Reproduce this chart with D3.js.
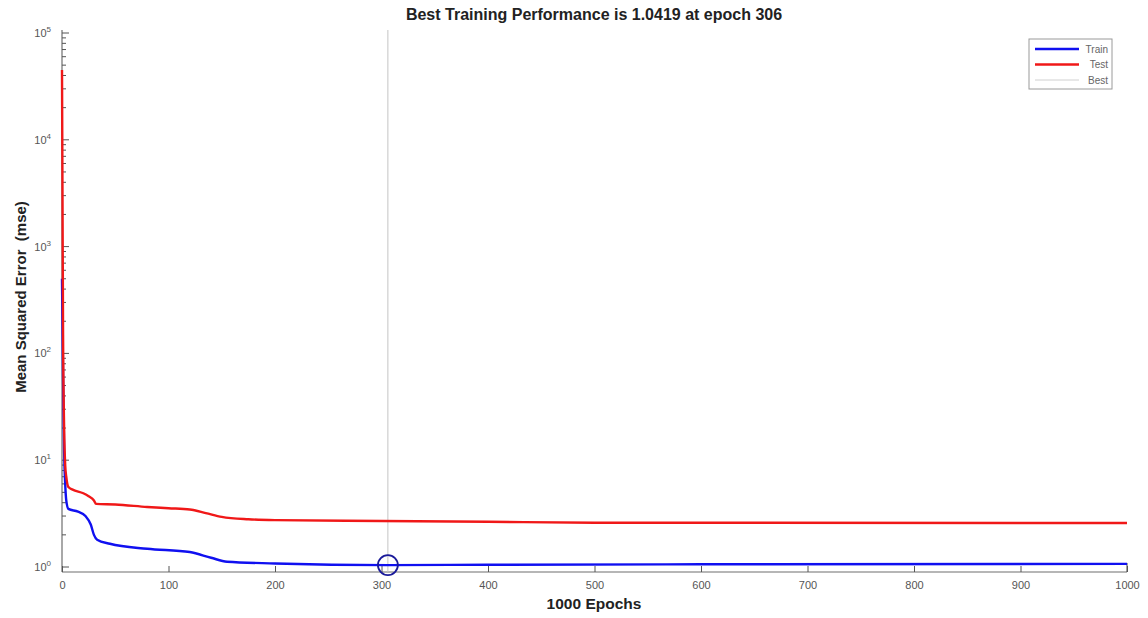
<!DOCTYPE html>
<html>
<head>
<meta charset="utf-8">
<script src="https://cdn.jsdelivr.net/npm/d3@7"></script>
<style>
  html, body { margin: 0; padding: 0; background: #fff; }
  svg { display: block; font-family: "Liberation Sans", Arial, sans-serif; }
</style>
</head>
<body>
<svg id="chart" width="1148" height="618"></svg>
<script>
// Training record: epoch checkpoints and mean squared error per set
const trainEpochs = [0, 1, 2, 3, 4, 6, 15, 22, 27, 30, 33, 45, 80, 120, 140, 155, 200, 306, 400, 600, 1000];
const trainMSE    = [500, 60, 12, 6, 4.2, 3.5, 3.3, 3.0, 2.5, 2.0, 1.8, 1.65, 1.48, 1.38, 1.22, 1.12, 1.08, 1.0419, 1.05, 1.06, 1.07];
const testEpochs  = [0, 1, 2, 3, 4, 6, 10, 20, 25, 30, 32, 50, 80, 100, 120, 135, 150, 175, 200, 300, 400, 500, 1000];
const testMSE     = [45000, 150, 20, 9, 7, 5.6, 5.3, 4.9, 4.6, 4.2, 3.9, 3.85, 3.65, 3.55, 3.45, 3.2, 2.95, 2.8, 2.75, 2.7, 2.65, 2.6, 2.58];
const bestEpoch = 306;
const bestValue = 1.0419;
const totalEpochs = 1000;
const xTicks = [0, 100, 200, 300, 400, 500, 600, 700, 800, 900, 1000];
const yDecades = [0, 1, 2, 3, 4, 5];
const legendLabels = ["Train", "Test", "Best"];

const svg = d3.select("#chart");
const plotLeft = 62, plotRight = 1127, decadeTop = 33, zeroY = 567;
const decade = (zeroY - decadeTop) / 5;

const x = d3.scaleLinear().domain([0, totalEpochs]).range([plotLeft, plotRight]);
const yMin = Math.pow(10, -(572 - zeroY) / decade);
const yMax = Math.pow(10, 5 + (decadeTop - 30) / decade);
const y = d3.scaleLog().domain([yMin, yMax]).range([572, 30]);

// Axes: left and bottom spines
const axisColor = "#6e6e6e";
svg.append("line").attr("x1", plotLeft).attr("x2", plotLeft).attr("y1", 30).attr("y2", 572)
  .attr("stroke", axisColor).attr("stroke-width", 1.2);
svg.append("line").attr("x1", plotLeft).attr("x2", plotRight).attr("y1", 572).attr("y2", 572)
  .attr("stroke", axisColor).attr("stroke-width", 1.2);
svg.append("line").attr("x1", plotRight).attr("x2", plotRight).attr("y1", 563).attr("y2", 572)
  .attr("stroke", "#444").attr("stroke-width", 1);

// X ticks (inward) and labels
const xAxis = d3.axisBottom(x).tickValues(xTicks).tickSizeInner(-6).tickSizeOuter(0).tickFormat(d3.format("d"));
const gx = svg.append("g").attr("transform", "translate(0,572)").call(xAxis);
gx.select(".domain").remove();
gx.selectAll(".tick line").attr("stroke", "#555");
gx.selectAll(".tick text").attr("fill", "#555").attr("font-size", 11).attr("dy", "1.3em");

// Y ticks: majors at decades, minors 2..9
const minor = [];
yDecades.forEach(e => {
  if (e < 5) for (let m = 2; m <= 9; m++) minor.push(m * Math.pow(10, e));
});
svg.append("g").selectAll("line.minor").data(minor).join("line")
  .attr("x1", plotLeft).attr("x2", plotLeft + 4)
  .attr("y1", d => y(d)).attr("y2", d => y(d))
  .attr("stroke", "#555").attr("stroke-width", 1);
svg.append("g").selectAll("line.major").data(yDecades).join("line")
  .attr("x1", plotLeft).attr("x2", plotLeft + 7)
  .attr("y1", d => y(Math.pow(10, d))).attr("y2", d => y(Math.pow(10, d)))
  .attr("stroke", "#555").attr("stroke-width", 1);
const yl = svg.append("g").selectAll("text").data(yDecades).join("text")
  .attr("x", 51).attr("y", d => y(Math.pow(10, d)) + 4)
  .attr("text-anchor", "end").attr("fill", "#555").attr("font-size", 11);
yl.append("tspan").text("10");
yl.append("tspan").attr("dy", -5).attr("font-size", 8).text(d => d);

// Best epoch marker line
svg.append("line")
  .attr("x1", x(bestEpoch)).attr("x2", x(bestEpoch)).attr("y1", 30).attr("y2", 572)
  .attr("stroke", "#c4c4c4").attr("stroke-width", 1);

// Curves
const line = d3.line().x(d => x(d[0])).y(d => y(d[1])).curve(d3.curveMonotoneX);
const trainData = d3.zip(trainEpochs, trainMSE);
const testData = d3.zip(testEpochs, testMSE);
svg.append("path").datum(trainData).attr("d", line)
  .attr("fill", "none").attr("stroke", "#1010f0").attr("stroke-width", 2.4);
svg.append("path").datum(testData).attr("d", line)
  .attr("fill", "none").attr("stroke", "#f01818").attr("stroke-width", 2.4);

// Best performance circle
svg.append("circle").attr("cx", x(bestEpoch)).attr("cy", y(bestValue)).attr("r", 10)
  .attr("fill", "none").attr("stroke", "#1a1a9a").attr("stroke-width", 1.8);

// Title and axis labels
svg.append("text").attr("x", 594).attr("y", 20).attr("text-anchor", "middle")
  .attr("font-size", 16).attr("font-weight", "bold").attr("fill", "#222")
  .text(`Best Training Performance is ${bestValue} at epoch ${bestEpoch}`);
svg.append("text").attr("x", 594).attr("y", 609).attr("text-anchor", "middle")
  .attr("font-size", 15.5).attr("font-weight", "bold").attr("fill", "#222")
  .text(`${totalEpochs} Epochs`);
svg.append("text").attr("transform", "translate(26,297) rotate(-90)").attr("text-anchor", "middle")
  .attr("font-size", 15).attr("font-weight", "bold").attr("fill", "#222")
  .attr("xml:space", "preserve")
  .text("Mean Squared Error\u00a0 (mse)");

// Legend
const lg = svg.append("g").attr("transform", "translate(1029,39)");
lg.append("rect").attr("width", 83).attr("height", 50).attr("fill", "#fff")
  .attr("stroke", "#9a9a9a").attr("stroke-width", 1);
const legendStyles = [
  { color: "#1010f0", width: 2.4 },
  { color: "#f01818", width: 2.4 },
  { color: "#d0d0d0", width: 1 }
];
legendLabels.forEach((lab, i) => {
  const yy = 10 + i * 15.5;
  lg.append("line").attr("x1", 6).attr("x2", 50).attr("y1", yy).attr("y2", yy)
    .attr("stroke", legendStyles[i].color).attr("stroke-width", legendStyles[i].width);
  lg.append("text").attr("x", 79).attr("y", yy + 3.5).attr("text-anchor", "end")
    .attr("font-size", 10).attr("fill", "#666").text(lab);
});
</script>
</body>
</html>
